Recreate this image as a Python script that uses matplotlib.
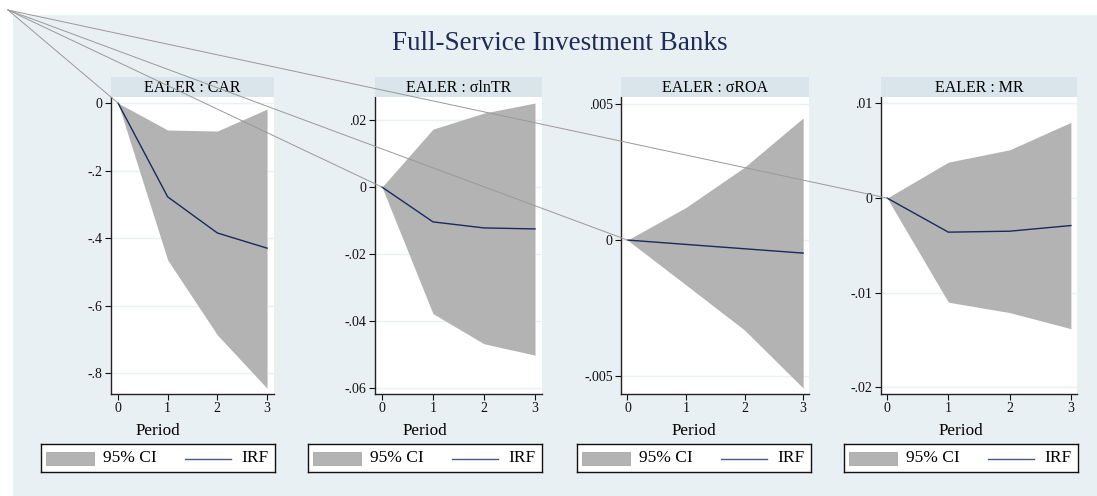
import matplotlib
matplotlib.use("Agg")
import matplotlib.pyplot as plt
from matplotlib.patches import Rectangle
from matplotlib.lines import Line2D

plt.rcParams['font.family'] = ['Liberation Serif', 'DejaVu Serif']

# ---------------- data ----------------
title = "Full-Service Investment Banks"
periods = [0, 1, 2, 3]
panel_titles = ["EALER : CAR", "EALER : \u03c3lnTR", "EALER : \u03c3ROA", "EALER : MR"]

car_irf = [0, -0.278, -0.385, -0.430]
car_lo = [0, -0.465, -0.687, -0.845]
car_hi = [0, -0.080, -0.083, -0.018]

lntr_irf = [0, -0.0104, -0.0122, -0.0125]
lntr_lo = [0, -0.0378, -0.0468, -0.0502]
lntr_hi = [0, 0.0173, 0.0221, 0.0251]

roa_irf = [0, -0.00016, -0.00032, -0.00048]
roa_lo = [0, -0.00165, -0.00331, -0.00544]
roa_hi = [0, 0.00120, 0.00268, 0.00449]

mr_irf = [0, -0.0036, -0.0035, -0.0029]
mr_lo = [0, -0.0110, -0.0121, -0.0138]
mr_hi = [0, 0.0038, 0.0051, 0.0080]

car_ticks = [0, -0.2, -0.4, -0.6, -0.8]
car_labels = ["0", "-.2", "-.4", "-.6", "-.8"]
lntr_ticks = [0.02, 0, -0.02, -0.04, -0.06]
lntr_labels = [".02", "0", "-.02", "-.04", "-.06"]
roa_ticks = [0.005, 0, -0.005]
roa_labels = [".005", "0", "-.005"]
mr_ticks = [0.01, 0, -0.01, -0.02]
mr_labels = [".01", "0", "-.01", "-.02"]
x_labels = ["0", "1", "2", "3"]

xlabel = "Period"
legend_ci = "95% CI"
legend_irf = "IRF"

# ---------------- layout ----------------
W, H = 1097, 496
fig = plt.figure(figsize=(W / 100, H / 100), dpi=100)
fig.patch.set_facecolor('white')


def px_box(x0, y0, x1, y1):
    return [x0 / W, 1 - y1 / H, (x1 - x0) / W, (y1 - y0) / H]


BG = '#e9f0f3'
STRIP = '#d9e5eb'
FILL = '#b3b3b3'
NAVY = '#1a2a5a'

fig.add_artist(Rectangle((13 / W, 0), 1 - 13 / W, 1 - 15 / H, transform=fig.transFigure,
                         facecolor=BG, edgecolor='none', zorder=-10))

fig.text(560 / W, 1 - 44 / H, title, ha='center', va='center', fontsize=19.5, color='#1f2c55')

panels = [
    (car_irf, car_lo, car_hi, car_ticks, car_labels, (111, 274), (-0.141, 3.14), (-0.862, 0.0178), 158),
    (lntr_irf, lntr_lo, lntr_hi, lntr_ticks, lntr_labels, (375, 542), (-0.137, 3.137), (-0.0618, 0.0269), 425),
    (roa_irf, roa_lo, roa_hi, roa_ticks, roa_labels, (621, 809), (-0.11, 3.10), (-0.00566, 0.00526), 694),
    (mr_irf, mr_lo, mr_hi, mr_ticks, mr_labels, (881, 1077), (-0.10, 3.10), (-0.0207, 0.01068), 961),
]

origins = []
for i, (irf, lo, hi, ticks, labels, (x0, x1), xl, yl, cx) in enumerate(panels):
    ax = fig.add_axes(px_box(x0, 97, x1, 394))
    ax.set_facecolor('white')
    ax.fill_between(periods, lo, hi, color=FILL, lw=0, zorder=2)
    ax.plot(periods, irf, color=NAVY, lw=1.0, zorder=3)
    ax.set_xlim(*xl)
    ax.set_ylim(*yl)
    ax.set_xticks(periods)
    ax.set_xticklabels(x_labels)
    ax.set_yticks(ticks)
    ax.set_yticklabels(labels)
    for s in ['top', 'right']:
        ax.spines[s].set_visible(False)
    for s in ['left', 'bottom']:
        ax.spines[s].set_color('#222222')
        ax.spines[s].set_linewidth(1.0)
    ax.tick_params(length=4, width=0.8, pad=2, labelsize=10, colors='#111111')
    ax.yaxis.grid(True, color='#eaf1f4', lw=1.0)
    ax.set_axisbelow(True)

    sax = fig.add_axes(px_box(x0, 77, x1, 97))
    sax.set_facecolor(STRIP)
    sax.set_xticks([]); sax.set_yticks([])
    for s in sax.spines.values():
        s.set_visible(False)
    sax.text(0.5, 0.45, panel_titles[i], ha='center', va='center', fontsize=11.5,
             transform=sax.transAxes)

    fig.text(cx / W, 1 - 431 / H, xlabel, ha='center', va='center', fontsize=12.3)

    # legend
    lx0 = cx - 117
    lax = fig.add_axes(px_box(lx0, 444, lx0 + 234, 472))
    lax.set_xlim(0, 234)
    lax.set_ylim(28, 0)
    lax.set_facecolor('white')
    for s in lax.spines.values():
        s.set_color('#111111')
        s.set_linewidth(1.0)
    lax.set_xticks([]); lax.set_yticks([])
    lax.add_patch(Rectangle((5, 8), 48, 13, facecolor=FILL, edgecolor='#a8a8a8', lw=0.6))
    lax.text(62, 14.5, legend_ci, ha='left', va='center', fontsize=12.5)
    lax.plot([144, 190], [14.5, 14.5], color='#4a5a80', lw=1.0)
    lax.text(200, 14.5, legend_irf, ha='left', va='center', fontsize=12.5)

    origins.append((ax, periods[0], irf[0]))

# leader lines from top-left corner to each panel origin
src = (8 / W, 1 - 10 / H)
for ax, x, y in origins:
    disp = ax.transData.transform((x, y))
    fx, fy = fig.transFigure.inverted().transform(disp)
    fig.add_artist(Line2D([src[0], fx], [src[1], fy], transform=fig.transFigure,
                          color='#999999', lw=0.7, zorder=20))

fig.savefig('out.png', dpi=100, facecolor=fig.get_facecolor())
